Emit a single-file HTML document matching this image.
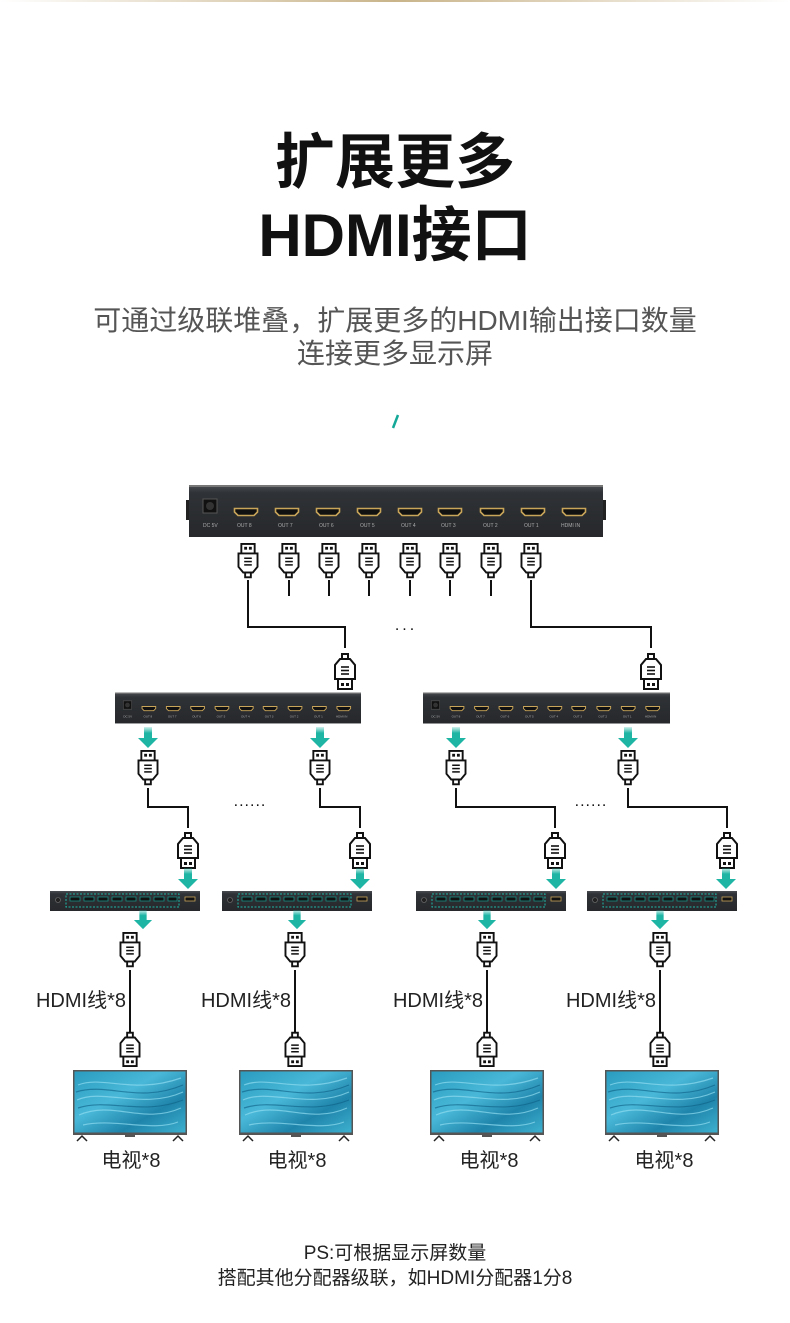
<!DOCTYPE html>
<html><head><meta charset="utf-8"><style>
html,body{margin:0;padding:0;background:#fff}
svg{display:block}
text{font-family:"Liberation Sans","Noto Sans CJK SC",sans-serif}
</style></head><body>
<svg width="790" height="1323" viewBox="0 0 790 1323" xmlns="http://www.w3.org/2000/svg">
<defs>
<linearGradient id="topl" x1="0" x2="1"><stop offset="0" stop-color="#fff"/><stop offset=".5" stop-color="#c9b48a"/><stop offset="1" stop-color="#fff"/></linearGradient>
<linearGradient id="devg" x1="0" y1="0" x2="0" y2="1"><stop offset="0" stop-color="#4a4d52"/><stop offset=".15" stop-color="#2f3236"/><stop offset="1" stop-color="#26282b"/></linearGradient>
<linearGradient id="arr" x1="0" y1="0" x2="0" y2="1"><stop offset="0" stop-color="#1fb5a5" stop-opacity=".2"/><stop offset=".5" stop-color="#1fb5a5"/></linearGradient>
<linearGradient id="tvg" x1="0" y1="0" x2="1" y2="1"><stop offset="0" stop-color="#2a9cbf"/><stop offset=".4" stop-color="#49b8d8"/><stop offset=".7" stop-color="#1f84aa"/><stop offset="1" stop-color="#3db0cf"/></linearGradient>
<symbol id="port" viewBox="0 0 26 10"><path d="M1.5,1.5 H24.5 V5 L21,8.5 H5 L1.5,5 Z" fill="#111" stroke="#c9a55a" stroke-width="1.6"/></symbol>
<symbol id="dev" viewBox="0 0 414 52">
<rect x="0" y="0" width="414" height="52" fill="url(#devg)"/>
<rect x="0" y="0" width="414" height="2" fill="#777"/>
<rect x="14" y="14" width="14" height="14" fill="#111" stroke="#555"/><circle cx="21" cy="21" r="4" fill="#333"/>
<use href="#port" x="44" y="22" width="26" height="10"/><use href="#port" x="85" y="22" width="26" height="10"/><use href="#port" x="126" y="22" width="26" height="10"/><use href="#port" x="167" y="22" width="26" height="10"/><use href="#port" x="208" y="22" width="26" height="10"/><use href="#port" x="248" y="22" width="26" height="10"/><use href="#port" x="290" y="22" width="26" height="10"/><use href="#port" x="331" y="22" width="26" height="10"/><use href="#port" x="372" y="22" width="26" height="10"/>
<g fill="#aaa" font-size="5"><text x="14" y="42">DC 5V</text><text x="48" y="42">OUT 8</text><text x="89" y="42">OUT 7</text><text x="130" y="42">OUT 6</text><text x="171" y="42">OUT 5</text><text x="212" y="42">OUT 4</text><text x="252" y="42">OUT 3</text><text x="294" y="42">OUT 2</text><text x="335" y="42">OUT 1</text><text x="372" y="42">HDMI IN</text></g>
</symbol>
<symbol id="dev2" viewBox="0 0 150 20">
<rect x="0" y="0" width="150" height="20" fill="url(#devg)"/>
<circle cx="8" cy="9" r="2.5" fill="#222" stroke="#777" stroke-width=".6"/>
<rect x="16" y="3" width="113" height="13" fill="none" stroke="#1fb5a5" stroke-width="1" stroke-dasharray="2,1.5"/>
<g fill="#111" stroke="#1a8f85" stroke-width=".8"><rect x="20" y="6" width="10" height="4"/><rect x="34" y="6" width="10" height="4"/><rect x="48" y="6" width="10" height="4"/><rect x="62" y="6" width="10" height="4"/><rect x="76" y="6" width="10" height="4"/><rect x="90" y="6" width="10" height="4"/><rect x="104" y="6" width="10" height="4"/><rect x="118" y="6" width="9" height="4"/></g>
<rect x="135" y="6" width="10" height="4" fill="#111" stroke="#c9a55a" stroke-width=".8"/>
</symbol>
<symbol id="plugU" viewBox="0 0 24 42">
<g fill="#fff" stroke="#111" stroke-width="2">
<rect x="5" y="1" width="14" height="10"/>
<path d="M2,11 H22 V25 L17,31 H7 L2,25 Z"/>
<rect x="9" y="31" width="6" height="5"/>
</g>
<rect x="8" y="4" width="3" height="3" fill="#111"/><rect x="13" y="4" width="3" height="3" fill="#111"/>
<g stroke="#111" stroke-width="1.6"><line x1="8" y1="16" x2="16" y2="16"/><line x1="8" y1="19.5" x2="16" y2="19.5"/><line x1="8" y1="23" x2="16" y2="23"/></g>
</symbol>
<symbol id="plugD" viewBox="0 0 24 42"><g transform="translate(0,42) scale(1,-1)"><use href="#plugU" width="24" height="42"/></g></symbol>
<symbol id="arrow" viewBox="0 0 22 22"><rect x="7" y="0" width="8" height="12" fill="url(#arr)"/><path d="M1,11 H21 L11,21 Z" fill="#1fb5a5"/></symbol>
<symbol id="tv" viewBox="0 0 114 72">
<rect x="0" y="0" width="114" height="65" fill="#555"/>
<rect x="1.5" y="1.5" width="111" height="61" fill="url(#tvg)"/>
<g fill="none" stroke="#8fdcf0" stroke-width="1.2" opacity=".7"><path d="M5,15 C30,5 60,25 108,8"/><path d="M4,30 C30,18 70,40 110,22"/><path d="M6,45 C40,30 70,55 108,38"/><path d="M10,55 C40,48 80,62 105,52"/></g>
<g fill="none" stroke="#0d5f85" stroke-width="1.2" opacity=".6"><path d="M3,22 C35,12 65,34 110,15"/><path d="M5,38 C35,28 70,46 110,30"/></g>
<path d="M4,71 L9,66 L14,71 M100,71 L105,66 L110,71" fill="none" stroke="#222" stroke-width="1.5"/>
<rect x="52" y="65" width="10" height="2" fill="#555"/>
</symbol>
</defs>

<rect x="0" y="0" width="790" height="2" fill="url(#topl)"/>

<text x="395" y="183" text-anchor="middle" font-size="60" font-weight="bold" fill="#111">扩展更多</text>
<text x="395" y="256" text-anchor="middle" font-size="60" font-weight="bold" fill="#111">HDMI接口</text>
<text x="395" y="330" text-anchor="middle" font-size="28" fill="#555">可通过级联堆叠，扩展更多的HDMI输出接口数量</text>
<text x="395" y="363" text-anchor="middle" font-size="28" fill="#555">连接更多显示屏</text>
<line x1="393" y1="428" x2="398" y2="415" stroke="#14a898" stroke-width="2.5"/>

<use href="#dev" x="189" y="485" width="414" height="52"/>
<rect x="186" y="500" width="3" height="20" fill="#222"/><rect x="603" y="500" width="3" height="20" fill="#222"/>

<g fill="none" stroke="#111" stroke-width="2">
<line x1="289" y1="580" x2="289" y2="596"/><line x1="329" y1="580" x2="329" y2="596"/><line x1="369" y1="580" x2="369" y2="596"/><line x1="410" y1="580" x2="410" y2="596"/><line x1="450" y1="580" x2="450" y2="596"/><line x1="491" y1="580" x2="491" y2="596"/>
<path d="M248,580 V627 H345 V648"/>
<path d="M531,580 V627 H651 V648"/>
<path d="M148,788 V807 H188 V828"/><path d="M320,788 V807 H360 V828"/>
<path d="M456,788 V807 H555 V828"/><path d="M628,788 V807 H727 V828"/>
<line x1="130" y1="970" x2="130" y2="1034"/><line x1="295" y1="970" x2="295" y2="1034"/><line x1="487" y1="970" x2="487" y2="1034"/><line x1="660" y1="970" x2="660" y2="1034"/>
</g>
<use href="#plugU" x="236" y="543" width="24" height="40"/><use href="#plugU" x="277" y="543" width="24" height="40"/><use href="#plugU" x="317" y="543" width="24" height="40"/><use href="#plugU" x="357" y="543" width="24" height="40"/><use href="#plugU" x="398" y="543" width="24" height="40"/><use href="#plugU" x="438" y="543" width="24" height="40"/><use href="#plugU" x="479" y="543" width="24" height="40"/><use href="#plugU" x="519" y="543" width="24" height="40"/>
<text x="406" y="630" text-anchor="middle" font-size="16" fill="#111" letter-spacing="3">...</text>
<use href="#plugD" x="333" y="648" width="24" height="42"/><use href="#plugD" x="639" y="648" width="24" height="42"/>

<use href="#dev" x="115" y="692" width="246" height="32"/>
<use href="#dev" x="423" y="692" width="247" height="32"/>

<use href="#arrow" x="137" y="727" width="22" height="22"/><use href="#arrow" x="309" y="727" width="22" height="22"/><use href="#arrow" x="445" y="727" width="22" height="22"/><use href="#arrow" x="617" y="727" width="22" height="22"/>
<use href="#plugU" x="136" y="750" width="24" height="40"/><use href="#plugU" x="308" y="750" width="24" height="40"/><use href="#plugU" x="444" y="750" width="24" height="40"/><use href="#plugU" x="616" y="750" width="24" height="40"/>
<text x="250" y="806" text-anchor="middle" font-size="16" fill="#111" letter-spacing="1">......</text>
<text x="591" y="806" text-anchor="middle" font-size="16" fill="#111" letter-spacing="1">......</text>
<use href="#plugD" x="176" y="827" width="24" height="42"/><use href="#plugD" x="348" y="827" width="24" height="42"/><use href="#plugD" x="543" y="827" width="24" height="42"/><use href="#plugD" x="715" y="827" width="24" height="42"/>
<use href="#arrow" x="177" y="868" width="22" height="22"/><use href="#arrow" x="349" y="868" width="22" height="22"/><use href="#arrow" x="545" y="868" width="22" height="22"/><use href="#arrow" x="715" y="868" width="22" height="22"/>

<use href="#dev2" x="50" y="891" width="150" height="20"/><use href="#dev2" x="222" y="891" width="150" height="20"/><use href="#dev2" x="416" y="891" width="150" height="20"/><use href="#dev2" x="587" y="891" width="150" height="20"/>

<use href="#arrow" x="133" y="910" width="20" height="20"/><use href="#arrow" x="287" y="910" width="20" height="20"/><use href="#arrow" x="477" y="910" width="20" height="20"/><use href="#arrow" x="650" y="910" width="20" height="20"/>
<use href="#plugU" x="118" y="932" width="24" height="40"/><use href="#plugU" x="283" y="932" width="24" height="40"/><use href="#plugU" x="475" y="932" width="24" height="40"/><use href="#plugU" x="648" y="932" width="24" height="40"/>
<use href="#plugD" x="118" y="1027" width="24" height="40"/><use href="#plugD" x="283" y="1027" width="24" height="40"/><use href="#plugD" x="475" y="1027" width="24" height="40"/><use href="#plugD" x="648" y="1027" width="24" height="40"/>

<g font-size="20" fill="#222" text-anchor="end">
<text x="126" y="1007">HDMI线*8</text><text x="291" y="1007">HDMI线*8</text><text x="483" y="1007">HDMI线*8</text><text x="656" y="1007">HDMI线*8</text>
</g>

<use href="#tv" x="73" y="1070" width="114" height="72"/><use href="#tv" x="239" y="1070" width="114" height="72"/><use href="#tv" x="430" y="1070" width="114" height="72"/><use href="#tv" x="605" y="1070" width="114" height="72"/>

<g font-size="20" fill="#222" text-anchor="middle">
<text x="131" y="1167">电视*8</text><text x="297" y="1167">电视*8</text><text x="489" y="1167">电视*8</text><text x="664" y="1167">电视*8</text>
</g>

<text x="395" y="1259" text-anchor="middle" font-size="19" fill="#222">PS:可根据显示屏数量</text>
<text x="395" y="1284" text-anchor="middle" font-size="19" fill="#222">搭配其他分配器级联，如HDMI分配器1分8</text>
</svg>
</body></html>
